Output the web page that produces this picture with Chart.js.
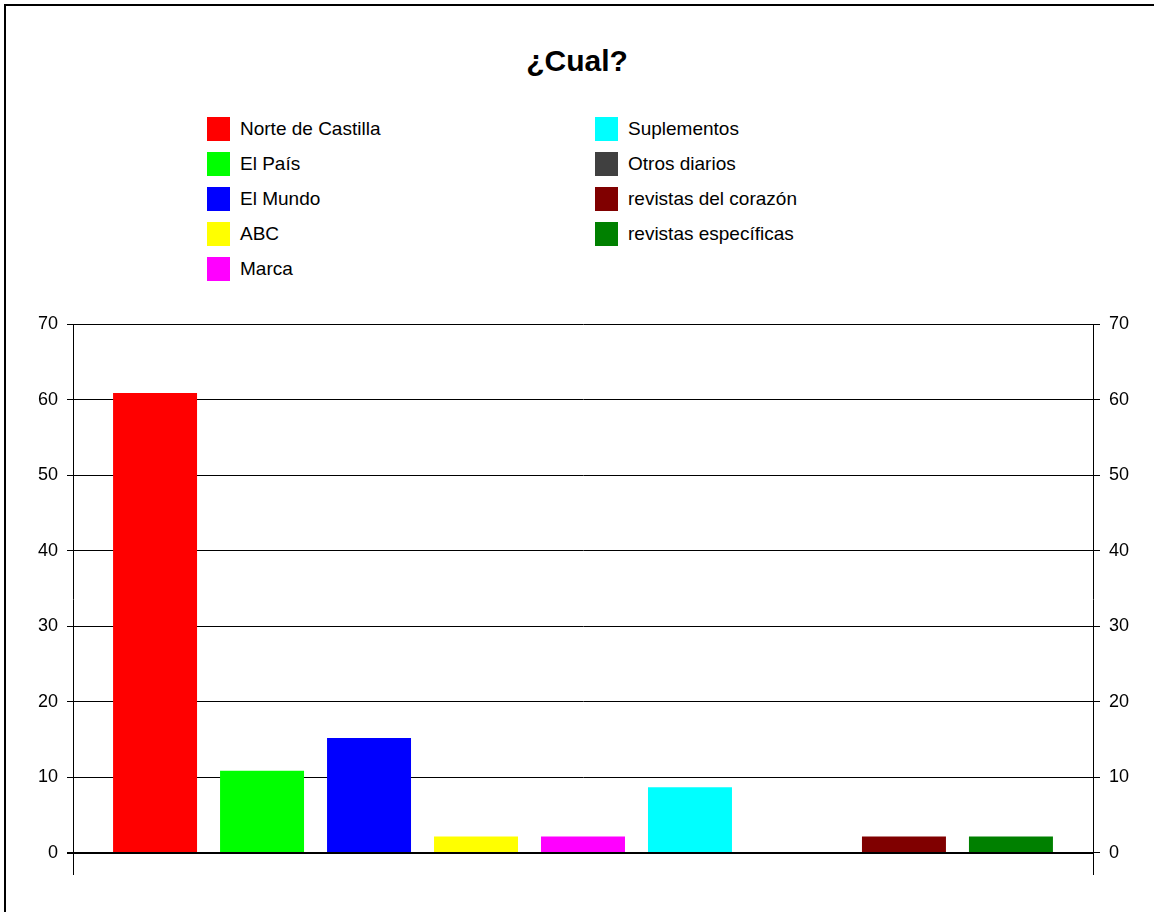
<!DOCTYPE html>
<html lang="es">
  <head>
    <meta charset="UTF-8" />
    <title>¿Cual?</title>
    <script src="https://cdn.jsdelivr.net/npm/chart.js"></script>
    <style>
      body {
        margin: 0;
        background: #ffffff;
        font-family: "Liberation Sans", Arial, sans-serif;
      }
      #page {
        position: relative;
        width: 1154px;
        height: 912px;
        overflow: hidden;
      }
      /* frame, only left/top edges are visible */
      #frame {
        position: absolute;
        left: 4px;
        top: 4px;
        width: 1200px;
        height: 1000px;
        border-left: 2px solid #000;
        border-top: 2px solid #000;
      }
      #title {
        position: absolute;
        left: 0;
        top: 44px;
        width: 1154px;
        text-align: center;
        font-weight: bold;
        font-size: 30px;
        color: #000;
      }
      .legend-item {
        position: absolute;
        height: 24px;
        font-size: 19px;
        line-height: 24px;
        color: #000;
        white-space: nowrap;
      }
      .legend-item span.box {
        position: absolute;
        left: 0;
        top: 0;
        width: 23px;
        height: 24px;
      }
      .legend-item span.txt {
        position: absolute;
        left: 33px;
        top: 0;
      }
      #chartBox {
        position: absolute;
        left: 0;
        top: 0;
        width: 1154px;
        height: 912px;
      }
    </style>
  </head>
  <body>
    <div id="page">
      <div id="frame"></div>
      <div id="title">¿Cual?</div>
      <div id="legend"></div>
      <div id="chartBox"><canvas id="cualChart"></canvas></div>
    </div>

    <script>
      // data
      var seriesNames = [
        "Norte de Castilla",
        "El País",
        "El Mundo",
        "ABC",
        "Marca",
        "Suplementos",
        "Otros diarios",
        "revistas del corazón",
        "revistas específicas",
      ];
      var seriesValues = [60.87, 10.87, 15.22, 2.17, 2.17, 8.7, 0, 2.17, 2.17];
      var seriesColors = [
        "#ff0000",
        "#00ff00",
        "#0000ff",
        "#ffff00",
        "#ff00ff",
        "#00ffff",
        "#404040",
        "#800000",
        "#008000",
      ];
      var yTicks = [0, 10, 20, 30, 40, 50, 60, 70];

      // one dataset per series, all in a single category
      var datasets = seriesNames.map(function (name, i) {
        return {
          label: name,
          data: [seriesValues[i]],
          backgroundColor: seriesColors[i],
          borderWidth: 0,
          categoryPercentage: 0.944,
          barPercentage: 0.785,
        };
      });

      // legend: two columns, column-major
      var legendBox = document.getElementById("legend");
      datasets.forEach(function (ds, i) {
        var col = i < 5 ? 0 : 1;
        var row = i < 5 ? i : i - 5;
        var item = document.createElement("div");
        item.className = "legend-item";
        item.style.left = (col === 0 ? 207 : 595) + "px";
        item.style.top = 117 + row * 35 + "px";
        item.innerHTML =
          '<span class="box" style="background:' +
          ds.backgroundColor +
          '"></span><span class="txt">' +
          ds.label +
          "</span>";
        legendBox.appendChild(item);
      });

      function setTicks(axis) {
        axis.ticks = yTicks.map(function (v) {
          return { value: v };
        });
      }

      var ctx = document.getElementById("cualChart").getContext("2d");
      var cualChart = new Chart(ctx, {
        type: "bar",
        data: {
          labels: [""],
          datasets: datasets,
        },
        options: {
          responsive: true,
          maintainAspectRatio: false,
          animation: false,
          layout: {
            padding: { left: 0, right: 0, top: 324, bottom: 38 },
          },
          plugins: {
            legend: { display: false },
            tooltip: { enabled: false },
          },
          scales: {
            x: {
              display: false,
              offset: true,
            },
            y: {
              position: "left",
              min: -2.78,
              max: 70,
              afterBuildTicks: setTicks,
              afterFit: function (s) {
                s.width = 73;
              },
              border: { display: true, color: "#000", width: 1 },
              grid: {
                color: "#000",
                lineWidth: function (c) {
                  return c.tick && c.tick.value === 0 ? 2 : 1;
                },
                tickLength: 6,
                tickColor: "#000",
              },
              ticks: {
                color: "#000",
                padding: 9,
                font: { family: "'Liberation Sans', Arial", size: 18 },
              },
            },
            y2: {
              position: "right",
              min: -2.78,
              max: 70,
              afterBuildTicks: setTicks,
              afterFit: function (s) {
                s.width = 61;
              },
              border: { display: true, color: "#000", width: 1 },
              grid: {
                drawOnChartArea: false,
                tickLength: 7,
                tickColor: "#000",
              },
              ticks: {
                color: "#000",
                padding: 9,
                font: { family: "'Liberation Sans', Arial", size: 18 },
              },
            },
          },
        },
      });
    </script>
  </body>
</html>
